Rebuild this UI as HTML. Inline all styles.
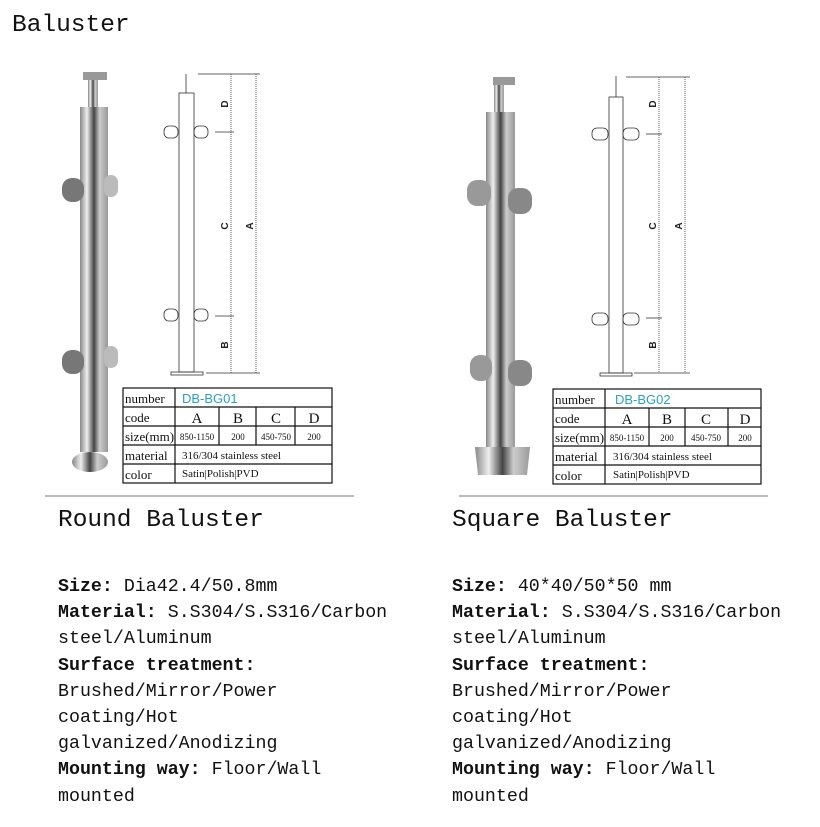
<!DOCTYPE html>
<html><head><meta charset="utf-8"><style>
body{margin:0;width:820px;height:827px;background:#fff;position:relative;overflow:hidden;font-family:"Liberation Mono",monospace;color:#111}
.t{position:absolute;white-space:nowrap}
.h{font-size:24.5px}
.b{font-size:18.3px;line-height:26.2px}
b{font-weight:bold}
svg{position:absolute;left:0;top:0}
</style></head><body>
<svg width="820" height="827" viewBox="0 0 820 827" font-family="Liberation Serif,serif">
<defs>
<linearGradient id="g" x1="0" x2="1"><stop offset="0" stop-color="#888"/><stop offset=".25" stop-color="#eee"/><stop offset=".5" stop-color="#444"/><stop offset=".7" stop-color="#ccc"/><stop offset="1" stop-color="#999"/></linearGradient>
</defs>
<line x1="45" y1="496" x2="354" y2="496" stroke="#777"/>
<line x1="459" y1="496" x2="768" y2="496" stroke="#777"/>
<rect x="83" y="72" width="24" height="8" fill="#999"/>
<rect x="88" y="80" width="10" height="27" fill="url(#g)"/>
<rect x="80" y="107" width="28" height="345" fill="url(#g)"/>
<ellipse cx="90" cy="462" rx="18" ry="10" fill="url(#g)"/>
<rect x="62" y="178" width="22" height="24" rx="10" fill="#777"/><rect x="104" y="175" width="14" height="22" rx="7" fill="#bbb"/>
<rect x="62" y="350" width="22" height="24" rx="10" fill="#777"/><rect x="104" y="346" width="14" height="22" rx="7" fill="#bbb"/>
<rect x="493" y="77" width="22" height="8" fill="#999"/>
<rect x="494" y="85" width="10" height="27" fill="url(#g)"/>
<rect x="486" y="112" width="29" height="340" fill="url(#g)"/>
<path d="M475 447h55l-3 28h-49z" fill="url(#g)"/>
<rect x="467" y="180" width="24" height="26" rx="10" fill="#999"/><rect x="508" y="188" width="24" height="26" rx="10" fill="#888"/>
<rect x="470" y="355" width="22" height="26" rx="10" fill="#999"/><rect x="508" y="360" width="24" height="26" rx="10" fill="#888"/>
<g fill="none" stroke="#333" stroke-width="0.8">
<rect x="179" y="93" width="15" height="279"/><rect x="171" y="372" width="32" height="3"/>
<rect x="164" y="126" width="14" height="12" rx="5"/><rect x="194" y="126" width="14" height="12" rx="5"/>
<rect x="164" y="309" width="14" height="12" rx="5"/><rect x="194" y="309" width="14" height="12" rx="5"/>
<line x1="186" y1="74" x2="186" y2="93"/>
<line x1="198" y1="74" x2="260" y2="74"/><line x1="206" y1="373" x2="260" y2="373"/>
<line x1="231" y1="74" x2="231" y2="373" stroke-dasharray="1 1"/><line x1="256" y1="74" x2="256" y2="373" stroke-dasharray="1 1"/>
<line x1="215" y1="132" x2="234" y2="132"/><line x1="215" y1="316" x2="234" y2="316"/>
<rect x="609" y="97" width="14" height="276"/><rect x="600" y="373" width="32" height="3"/>
<rect x="592" y="128" width="16" height="12" rx="5"/><rect x="623" y="128" width="16" height="12" rx="5"/>
<rect x="592" y="313" width="16" height="12" rx="5"/><rect x="623" y="313" width="16" height="12" rx="5"/>
<line x1="616" y1="76" x2="616" y2="97"/>
<line x1="626" y1="77" x2="690" y2="77"/><line x1="634" y1="373" x2="690" y2="373"/>
<line x1="659" y1="77" x2="659" y2="373" stroke-dasharray="1 1"/><line x1="685" y1="77" x2="685" y2="373" stroke-dasharray="1 1"/>
<line x1="646" y1="134" x2="662" y2="134"/><line x1="646" y1="318" x2="662" y2="318"/>
</g>
<g font-family="Liberation Sans,sans-serif" font-size="10" font-weight="bold" fill="#222">
<text transform="translate(231,104) rotate(-90)" text-anchor="middle" dy="-3">D</text>
<text transform="translate(231,226) rotate(-90)" text-anchor="middle" dy="-3">C</text>
<text transform="translate(256,226) rotate(-90)" text-anchor="middle" dy="-3">A</text>
<text transform="translate(231,345) rotate(-90)" text-anchor="middle" dy="-3">B</text>
<text transform="translate(659,104) rotate(-90)" text-anchor="middle" dy="-3">D</text>
<text transform="translate(659,226) rotate(-90)" text-anchor="middle" dy="-3">C</text>
<text transform="translate(685,226) rotate(-90)" text-anchor="middle" dy="-3">A</text>
<text transform="translate(659,345) rotate(-90)" text-anchor="middle" dy="-3">B</text>
</g>
<g stroke="#111" stroke-width="1.2" fill="none">
<rect x="123" y="388" width="209" height="95"/>
<line x1="123" y1="407" x2="332" y2="407"/><line x1="123" y1="426" x2="332" y2="426"/><line x1="123" y1="445" x2="332" y2="445"/><line x1="123" y1="464" x2="332" y2="464"/>
<line x1="175" y1="388" x2="175" y2="483"/><line x1="219" y1="407" x2="219" y2="445"/><line x1="256" y1="407" x2="256" y2="445"/><line x1="295" y1="407" x2="295" y2="445"/>
<rect x="553" y="389" width="208" height="95"/>
<line x1="553" y1="408" x2="761" y2="408"/><line x1="553" y1="427" x2="761" y2="427"/><line x1="553" y1="446" x2="761" y2="446"/><line x1="553" y1="465" x2="761" y2="465"/>
<line x1="605" y1="389" x2="605" y2="484"/><line x1="649" y1="408" x2="649" y2="446"/><line x1="685" y1="408" x2="685" y2="446"/><line x1="728" y1="408" x2="728" y2="446"/>
</g>
<g font-size="13" fill="#111">
<text x="125" y="403">number</text><text x="125" y="422">code</text><text x="125" y="441">size(mm)</text><text x="125" y="460">material</text><text x="125" y="479">color</text>
<text x="182" y="403" fill="#2a9fc9" font-family="Liberation Sans,sans-serif" font-size="13">DB-BG01</text>
<text x="197" y="423" text-anchor="middle" font-size="15">A</text><text x="238" y="423" text-anchor="middle" font-size="15">B</text><text x="276" y="423" text-anchor="middle" font-size="15">C</text><text x="314" y="423" text-anchor="middle" font-size="15">D</text>
<text x="197" y="440" text-anchor="middle" font-size="9">850-1150</text><text x="238" y="440" text-anchor="middle" font-size="9">200</text><text x="276" y="440" text-anchor="middle" font-size="9">450-750</text><text x="314" y="440" text-anchor="middle" font-size="9">200</text>
<text x="182" y="459" font-size="11">316/304 stainless steel</text><text x="182" y="477" font-size="11">Satin|Polish|PVD</text>
<text x="555" y="404">number</text><text x="555" y="423">code</text><text x="555" y="442">size(mm)</text><text x="555" y="461">material</text><text x="555" y="480">color</text>
<text x="615" y="404" fill="#2a9fc9" font-family="Liberation Sans,sans-serif" font-size="13">DB-BG02</text>
<text x="627" y="424" text-anchor="middle" font-size="15">A</text><text x="667" y="424" text-anchor="middle" font-size="15">B</text><text x="706" y="424" text-anchor="middle" font-size="15">C</text><text x="745" y="424" text-anchor="middle" font-size="15">D</text>
<text x="627" y="441" text-anchor="middle" font-size="9">850-1150</text><text x="667" y="441" text-anchor="middle" font-size="9">200</text><text x="706" y="441" text-anchor="middle" font-size="9">450-750</text><text x="745" y="441" text-anchor="middle" font-size="9">200</text>
<text x="613" y="460" font-size="11">316/304 stainless steel</text><text x="613" y="478" font-size="11">Satin|Polish|PVD</text>
</g>
</svg>
<div class="t h" style="left:12px;top:12px">Baluster</div>
<div class="t h" style="left:58px;top:507px">Round Baluster</div>
<div class="t h" style="left:452px;top:507px">Square Baluster</div>
<div class="t b" style="left:58px;top:574px"><b>Size:</b> Dia42.4/50.8mm<br><b>Material:</b> S.S304/S.S316/Carbon<br>steel/Aluminum<br><b>Surface treatment:</b><br>Brushed/Mirror/Power<br>coating/Hot<br>galvanized/Anodizing<br><b>Mounting way:</b> Floor/Wall<br>mounted</div>
<div class="t b" style="left:452px;top:574px"><b>Size:</b> 40*40/50*50 mm<br><b>Material:</b> S.S304/S.S316/Carbon<br>steel/Aluminum<br><b>Surface treatment:</b><br>Brushed/Mirror/Power<br>coating/Hot<br>galvanized/Anodizing<br><b>Mounting way:</b> Floor/Wall<br>mounted</div>
</body></html>
